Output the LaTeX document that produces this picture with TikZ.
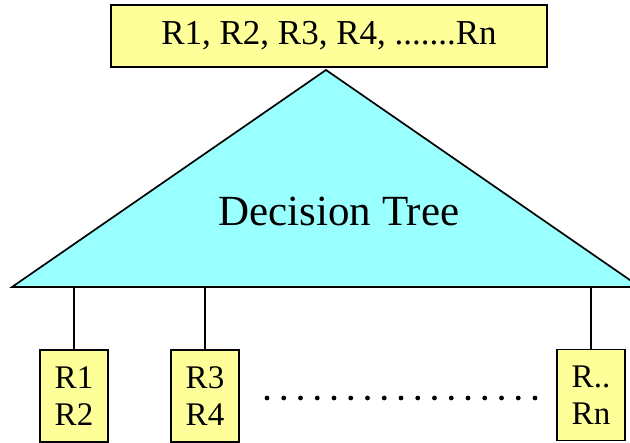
\documentclass[tikz,border=0pt]{standalone}
\usepackage{fontspec}
\setmainfont{Liberation Serif}
\begin{document}
\begin{tikzpicture}[x=1pt,y=-1pt,
  rulebox/.style={draw=black,line width=1.7pt,fill=boxyellow,inner sep=0pt},
  leafbox/.style={rulebox,minimum width=68pt,minimum height=92pt,align=center,
    font=\fontsize{33}{37}\selectfont},
  link/.style={line width=1.7pt}]
\definecolor{boxyellow}{HTML}{FFFF99}
\definecolor{treecyan}{HTML}{99FFFF}
\useasboundingbox (0,0) rectangle (630,443);
\clip (0,0) rectangle (630,443);
% input rules
\node[rulebox,minimum width=436pt,minimum height=62pt,
  font=\fontsize{35}{40}\selectfont] (all) at (329,36) {R1, R2, R3, R4, .......Rn};
% the tree as a triangle
\coordinate (apex) at (326,70);
\coordinate (bl) at (12,287);
\coordinate (br) at (640,287);
\draw[link,fill=treecyan,line join=miter] (apex) -- (br) -- (bl) -- cycle;
\node[font=\fontsize{43}{48}\selectfont] (dt) at (339,211) {Decision Tree};
% leaves
\node[leafbox] (l1) at (74,396) {R1\\R2};
\node[leafbox] (l2) at (205,396) {R3\\R4};
\node[leafbox,minimum height=91pt] (ln) at (591,395) {R..\\Rn};
\coordinate (t1) at (74,287);
\coordinate (t2) at (205,287);
\coordinate (tn) at (591,287);
\draw[link] (t1) -- (l1.north);
\draw[link] (t2) -- (l2.north);
\draw[link] (tn) -- (ln.north);
% row of dots between the leaves
\foreach \i in {0,...,16}
  \fill (267+\i*16.75,398) circle (2.4pt);
\end{tikzpicture}
\end{document}
